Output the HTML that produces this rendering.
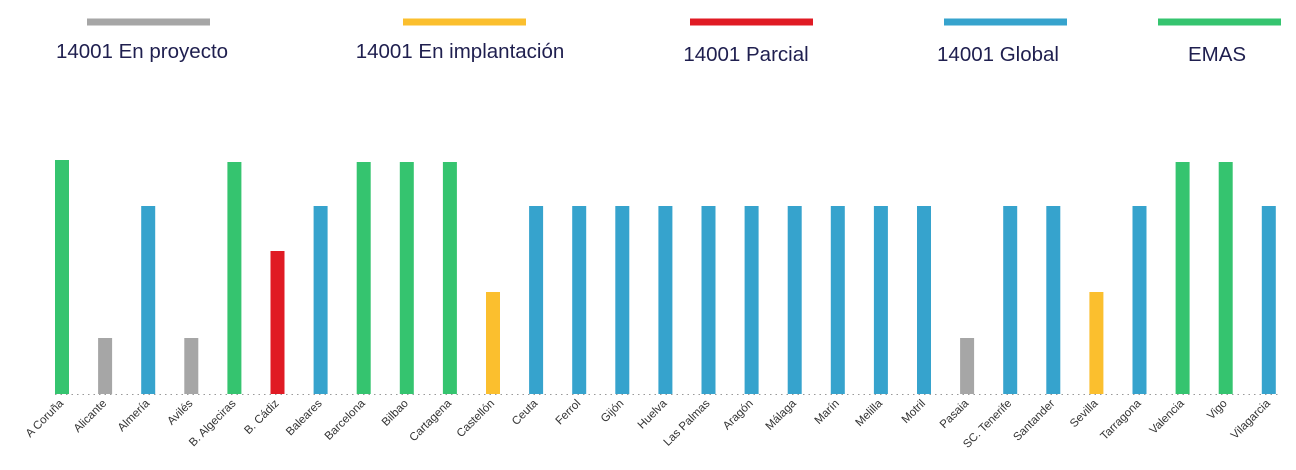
<!DOCTYPE html>
<html><head><meta charset="utf-8"><style>
body{margin:0;background:#fff;}
svg{display:block;font-family:"Liberation Sans",sans-serif;}
</style></head><body>
<svg width="1296" height="470" viewBox="0 0 1296 470">
<g stroke-width="7">
<line x1="87" y1="22" x2="210" y2="22" stroke="#a6a6a6"/>
<line x1="403" y1="22" x2="526" y2="22" stroke="#fbbf2e"/>
<line x1="690" y1="22" x2="813" y2="22" stroke="#e01b24"/>
<line x1="944" y1="22" x2="1067" y2="22" stroke="#36a3cd"/>
<line x1="1158" y1="22" x2="1281" y2="22" stroke="#35c46f"/>
</g>
<g font-size="20.5" fill="#1f1f4f" text-anchor="middle">
<text x="142" y="58">14001 En proyecto</text>
<text x="460" y="58">14001 En implantación</text>
<text x="746" y="61">14001 Parcial</text>
<text x="998" y="61">14001 Global</text>
<text x="1217" y="61">EMAS</text>
</g>
<line x1="55" y1="394.5" x2="1278" y2="394.5" stroke="#999" stroke-width="1" stroke-dasharray="1.5,4"/>
<g>
<rect x="55" y="160" width="14" height="234" fill="#35c46f"/>
<rect x="98.1" y="338" width="14" height="56" fill="#a6a6a6"/>
<rect x="141.2" y="206" width="14" height="188" fill="#36a3cd"/>
<rect x="184.3" y="338" width="14" height="56" fill="#a6a6a6"/>
<rect x="227.4" y="162" width="14" height="232" fill="#35c46f"/>
<rect x="270.5" y="251" width="14" height="143" fill="#e01b24"/>
<rect x="313.6" y="206" width="14" height="188" fill="#36a3cd"/>
<rect x="356.7" y="162" width="14" height="232" fill="#35c46f"/>
<rect x="399.8" y="162" width="14" height="232" fill="#35c46f"/>
<rect x="442.9" y="162" width="14" height="232" fill="#35c46f"/>
<rect x="486" y="292" width="14" height="102" fill="#fbbf2e"/>
<rect x="529.1" y="206" width="14" height="188" fill="#36a3cd"/>
<rect x="572.2" y="206" width="14" height="188" fill="#36a3cd"/>
<rect x="615.3" y="206" width="14" height="188" fill="#36a3cd"/>
<rect x="658.4" y="206" width="14" height="188" fill="#36a3cd"/>
<rect x="701.5" y="206" width="14" height="188" fill="#36a3cd"/>
<rect x="744.6" y="206" width="14" height="188" fill="#36a3cd"/>
<rect x="787.7" y="206" width="14" height="188" fill="#36a3cd"/>
<rect x="830.8" y="206" width="14" height="188" fill="#36a3cd"/>
<rect x="873.9" y="206" width="14" height="188" fill="#36a3cd"/>
<rect x="917" y="206" width="14" height="188" fill="#36a3cd"/>
<rect x="960.1" y="338" width="14" height="56" fill="#a6a6a6"/>
<rect x="1003.2" y="206" width="14" height="188" fill="#36a3cd"/>
<rect x="1046.3" y="206" width="14" height="188" fill="#36a3cd"/>
<rect x="1089.4" y="292" width="14" height="102" fill="#fbbf2e"/>
<rect x="1132.5" y="206" width="14" height="188" fill="#36a3cd"/>
<rect x="1175.6" y="162" width="14" height="232" fill="#35c46f"/>
<rect x="1218.7" y="162" width="14" height="232" fill="#35c46f"/>
<rect x="1261.8" y="206" width="14" height="188" fill="#36a3cd"/>
</g>
<g font-size="11.5" fill="#333" text-anchor="end">
<text transform="translate(64,404) rotate(-45)">A Coruña</text>
<text transform="translate(107.1,404) rotate(-45)">Alicante</text>
<text transform="translate(150.2,404) rotate(-45)">Almería</text>
<text transform="translate(193.3,404) rotate(-45)">Avilés</text>
<text transform="translate(236.4,404) rotate(-45)">B. Algeciras</text>
<text transform="translate(279.5,404) rotate(-45)">B. Cádiz</text>
<text transform="translate(322.6,404) rotate(-45)">Baleares</text>
<text transform="translate(365.7,404) rotate(-45)">Barcelona</text>
<text transform="translate(408.8,404) rotate(-45)">Bilbao</text>
<text transform="translate(451.9,404) rotate(-45)">Cartagena</text>
<text transform="translate(495,404) rotate(-45)">Castellón</text>
<text transform="translate(538.1,404) rotate(-45)">Ceuta</text>
<text transform="translate(581.2,404) rotate(-45)">Ferrol</text>
<text transform="translate(624.3,404) rotate(-45)">Gijón</text>
<text transform="translate(667.4,404) rotate(-45)">Huelva</text>
<text transform="translate(710.5,404) rotate(-45)">Las Palmas</text>
<text transform="translate(753.6,404) rotate(-45)">Aragón</text>
<text transform="translate(796.7,404) rotate(-45)">Málaga</text>
<text transform="translate(839.8,404) rotate(-45)">Marín</text>
<text transform="translate(882.9,404) rotate(-45)">Melilla</text>
<text transform="translate(926,404) rotate(-45)">Motril</text>
<text transform="translate(969.1,404) rotate(-45)">Pasaia</text>
<text transform="translate(1012.2,404) rotate(-45)">SC. Tenerife</text>
<text transform="translate(1055.3,404) rotate(-45)">Santander</text>
<text transform="translate(1098.4,404) rotate(-45)">Sevilla</text>
<text transform="translate(1141.5,404) rotate(-45)">Tarragona</text>
<text transform="translate(1184.6,404) rotate(-45)">Valencia</text>
<text transform="translate(1227.7,404) rotate(-45)">Vigo</text>
<text transform="translate(1270.8,404) rotate(-45)">Vilagarcia</text>
</g>
</svg>
</body></html>
